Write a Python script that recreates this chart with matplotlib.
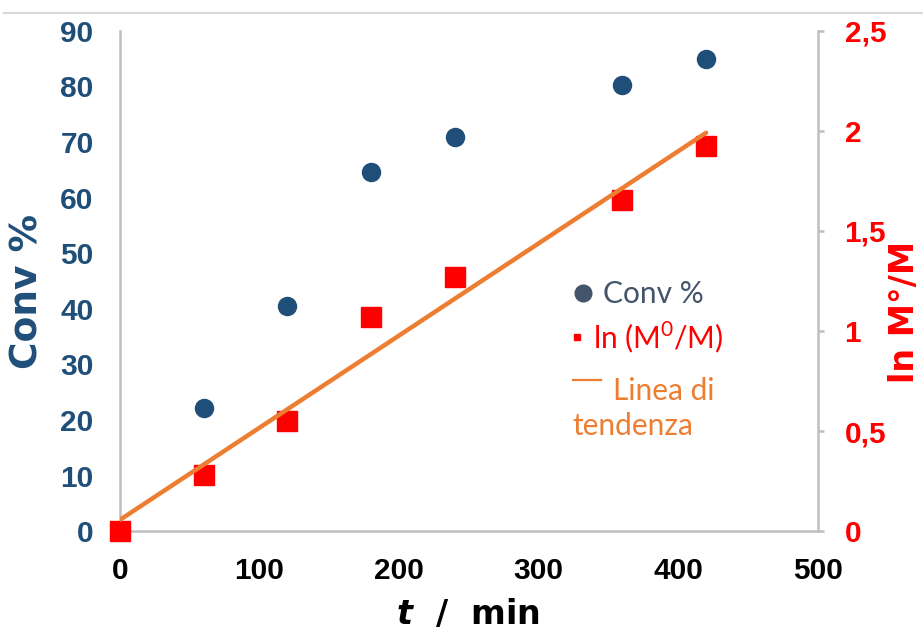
import numpy as np
import matplotlib
matplotlib.use("Agg")
import matplotlib.pyplot as plt
from matplotlib.lines import Line2D

# Polymerisation kinetics: conversion and ln(M0/M) versus time
time_min = [0, 60, 120, 180, 240, 360, 420]
conv_pct = [0, 22.2, 40.5, 64.6, 70.9, 80.3, 85.0]
ln_m0_m = [0, 0.28, 0.55, 1.07, 1.27, 1.655, 1.925]

x_ticks = [0, 100, 200, 300, 400, 500]
left_ticks = [0, 10, 20, 30, 40, 50, 60, 70, 80, 90]
right_ticks = [0, 0.5, 1, 1.5, 2, 2.5]
right_tick_labels = ["0", "0,5", "1", "1,5", "2", "2,5"]

BLUE = "#1F4E79"
BLUE_TXT = "#44546A"
RED = "#FF0000"
ORANGE = "#ED7D31"
GRID = "#BFBFBF"

plt.rcParams["mathtext.fontset"] = "custom"
plt.rcParams["mathtext.bfit"] = "DejaVu Sans:bold:italic"
plt.rcParams["mathtext.rm"] = "Lato"

tick_font = dict(family="Liberation Sans", weight="bold", size=21.5)
title_font = dict(family="DejaVu Sans", weight="bold")

fig = plt.figure(figsize=(9.23, 6.30), dpi=100)
ax = fig.add_axes([0.130, 0.157, 0.756, 0.794])
ax2 = ax.twinx()

# thin frame line across the top of the figure
fig.add_artist(Line2D([0.004, 1.0], [0.979, 0.979], color="#D9D9D9", lw=1.5,
                      transform=fig.transFigure))

ax.set_xlim(0, 500)
ax.set_ylim(0, 90)
ax2.set_ylim(0, 2.5)

# linear trend of ln(M0/M)
slope, intercept = np.polyfit(time_min, ln_m0_m, 1)
t_fit = np.array([time_min[0], time_min[-1]])

ax.plot(time_min, conv_pct, "o", color=BLUE, ms=13, mec=BLUE, zorder=3)
ax2.plot(time_min, ln_m0_m, "s", color=RED, ms=14.5, mec=RED, zorder=3,
         clip_on=False)
ax2.plot(t_fit, slope * t_fit + intercept, "-", color=ORANGE, lw=3.2,
         solid_capstyle="round", zorder=4)

for a in (ax, ax2):
    for s in a.spines.values():
        s.set_visible(False)

ax.spines["left"].set_visible(True)
ax.spines["bottom"].set_visible(True)
ax2.spines["right"].set_visible(True)
for s in (ax.spines["left"], ax.spines["bottom"], ax2.spines["right"]):
    s.set_color(GRID)
    s.set_linewidth(1.8)

ax.set_xticks(x_ticks)
ax.set_xticklabels([str(v) for v in x_ticks], color="black", **tick_font)
ax.set_yticks(left_ticks)
ax.set_yticklabels([str(v) for v in left_ticks], color=BLUE, **tick_font)
ax.tick_params(axis="x", length=0, pad=19)
ax.tick_params(axis="y", length=0, pad=19)

ax2.set_yticks(right_ticks)
ax2.set_yticklabels(right_tick_labels, color=RED, **tick_font)
ax2.tick_params(axis="y", length=4.3, width=1.8, color=GRID, pad=15,
                direction="out")

ax.set_ylabel("Conv %", color=BLUE, fontsize=27, **title_font)
ax.yaxis.set_label_coords(-0.132, 0.48)
ax.yaxis.label.set_va("center")
ax2.set_ylabel("ln M°/M", color=RED, fontsize=24, **title_font)
ax2.yaxis.set_label_coords(1.1246, 0.438)
ax2.yaxis.label.set_va("center")
ax.set_xlabel(r"$\boldsymbol{t}$  /  min", fontsize=24, **title_font)
ax.xaxis.set_label_coords(0.498, -0.185)
ax.xaxis.label.set_va("baseline")

# legend drawn as marker + coloured text rows
leg_font = dict(family="Lato", size=21.5, va="baseline", ha="left",
                transform=ax.transAxes)
ax.plot([0.663], [0.476], "o", color=BLUE_TXT, ms=12, transform=ax.transAxes,
        clip_on=False)
ax.text(0.692, 0.456, "Conv %", color=BLUE_TXT, **leg_font)
ax.plot([0.655], [0.388], "s", color=RED, ms=5, transform=ax.transAxes,
        clip_on=False)
ax.text(0.678, 0.366, "ln (M$^{0}$/M)", color=RED, **leg_font)
ax.plot([0.649, 0.689], [0.302, 0.302], "-", color=ORANGE, lw=1.6,
        transform=ax.transAxes, clip_on=False)
ax.text(0.706, 0.262, "Linea di", color=ORANGE, **leg_font)
ax.text(0.649, 0.192, "tendenza", color=ORANGE, **leg_font)

fig.savefig("out.png", dpi=100)
